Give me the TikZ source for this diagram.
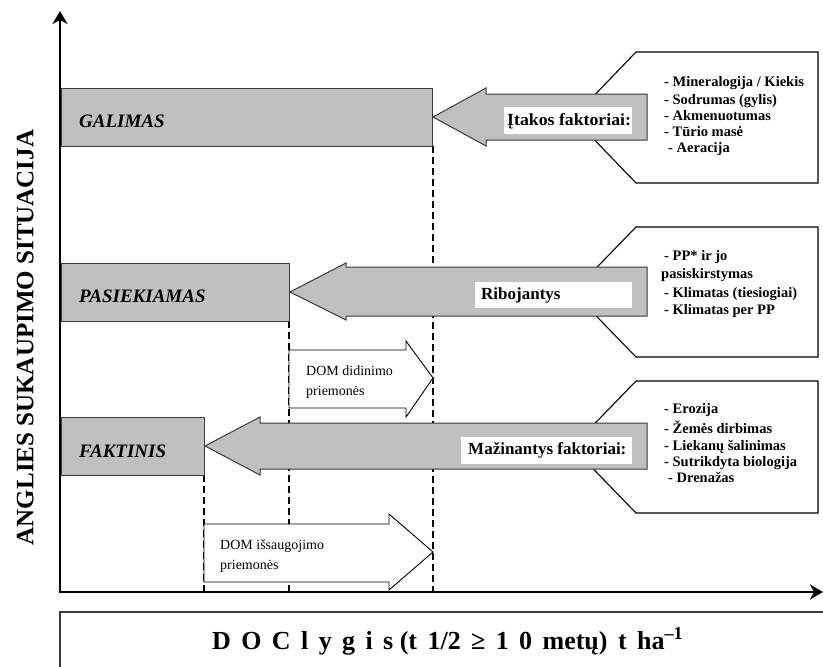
\documentclass[tikz,border=0pt]{standalone}
\usepackage{fontspec}
\setmainfont{Liberation Serif}
\usetikzlibrary{arrows.meta}
\definecolor{barfill}{HTML}{C0C0C0}
\definecolor{edge}{HTML}{3A3A3A}
\newcommand\pxf[1]{\fontsize{#1}{#1}\selectfont}
\newcommand\gp{\hspace{0.4em}}
\begin{document}
\begin{tikzpicture}[x=1pt,y=-1pt,
  bar/.style={draw=edge,fill=barfill,line width=1pt,inner sep=0pt,outer sep=0pt,anchor=north west},
  blockarrow/.style={draw=edge,fill=barfill,line width=1pt,line join=miter},
  callout/.style={draw=black,fill=white,line width=1.1pt,line join=miter},
  domarrow/.style={draw=black,fill=white,line width=0.9pt,line join=miter},
  guide/.style={line width=2pt,dash pattern=on 7pt off 4pt},
  axis/.style={line width=2.4pt,line join=miter},
  barlabel/.style={font=\pxf{19}\bfseries\itshape,anchor=base west,inner sep=0pt},
  labbox/.style={fill=white,inner sep=0pt,anchor=north west},
  arrlabel/.style={font=\pxf{17}\bfseries,anchor=base west,inner sep=0pt},
  listtext/.style={font=\pxf{14.5}\bfseries,anchor=base west,inner sep=0pt},
  domtext/.style={font=\pxf{14},anchor=base west,inner sep=0pt}
]
\useasboundingbox (0,0) rectangle (823,667);

% guide lines
\coordinate (g1t) at (433,146); \coordinate (g1b) at (433,592);
\coordinate (g2t) at (289,321); \coordinate (g2b) at (289,592);
\coordinate (g3t) at (204,475); \coordinate (g3b) at (204,592);
\draw[guide] (g1t) -- (g1b);
\draw[guide] (g2t) -- (g2b);
\draw[guide] (g3t) -- (g3b);

% callouts
\draw[callout] (636,52) -- (818,52) -- (818,183) -- (636,183) -- (573,117.5) -- cycle;
\draw[callout] (636,227) -- (818,227) -- (818,357) -- (636,357) -- (573,292) -- cycle;
\draw[callout] (636,381) -- (818,381) -- (818,513) -- (636,513) -- (572,447) -- cycle;

% bars
\node[bar,minimum width=371pt,minimum height=58pt] (galbar) at (61,88) {};
\node[bar,minimum width=228pt,minimum height=58pt] (pasbar) at (61,263) {};
\node[bar,minimum width=143pt,minimum height=58pt] (fakbar) at (61,417) {};

% block arrows
\draw[blockarrow] (433,117) -- (486,88) -- (486,94) -- (647,94) -- (647,140) -- (486,140) -- (486,146) -- cycle;
\draw[blockarrow] (290,292) -- (346,263) -- (346,267) -- (647,267) -- (647,316) -- (346,316) -- (346,320) -- cycle;
\draw[blockarrow] (205,446) -- (260,417) -- (260,423) -- (647,423) -- (647,469) -- (260,469) -- (260,475) -- cycle;

% white label boxes
\node[labbox,minimum width=128pt,minimum height=27pt] (lab1) at (504,107) {};
\node[labbox,minimum width=157pt,minimum height=26pt] (lab2) at (475,282) {};
\node[labbox,minimum width=171pt,minimum height=27pt] (lab3) at (461,437) {};
\node[arrlabel] (t1) at (507,125) {\scalebox{1.045}[1]{Įtakos faktoriai:}};
\node[arrlabel] (t2) at (481,299) {Ribojantys};
\node[arrlabel] (t3) at (468,454) {Mažinantys faktoriai:};

% bar labels
\node[barlabel] (galt) at (79,127) {GALIMAS};
\node[barlabel] (past) at (79,302) {PASIEKIAMAS};
\node[barlabel] (fakt) at (79,457) {FAKTINIS};

% DOM arrows
\draw[domarrow] (289,350) -- (406,350) -- (406,341) -- (433,378) -- (406,417) -- (406,408) -- (289,408) -- cycle;
\draw[domarrow] (204,524) -- (389,524) -- (389,514) -- (433,552) -- (389,590) -- (389,582) -- (204,582) -- cycle;
\node[domtext] (d1a) at (306,375) {DOM didinimo};
\node[domtext] (d1b) at (306,395) {priemonės};
\node[domtext] (d2a) at (220,549) {DOM išsaugojimo};
\node[domtext] (d2b) at (220,569) {priemonės};

% callout texts
\node[listtext] (c1a) at (664,86.5) {- Mineralogija / Kiekis};
\node[listtext] (c1b) at (664,104) {- Sodrumas (gylis)};
\node[listtext] (c1c) at (664,120) {- Akmenuotumas};
\node[listtext] (c1d) at (664,136) {- Tūrio masė};
\node[listtext] (c1e) at (668,152) {- Aeracija};

\node[listtext] (c2a) at (664,260) {- PP* ir jo};
\node[listtext] (c2b) at (661,278) {pasiskirstymas};
\node[listtext] (c2c) at (664,297) {- Klimatas (tiesiogiai)};
\node[listtext] (c2d) at (664,314) {- Klimatas per PP};

\node[listtext] (c3a) at (664,413) {- Erozija};
\node[listtext] (c3b) at (664,433) {- Žemės dirbimas};
\node[listtext] (c3c) at (664,450) {- Liekanų šalinimas};
\node[listtext] (c3d) at (664,466) {- Sutrikdyta biologija};
\node[listtext] (c3e) at (668,482) {- Drenažas};

% axes
\coordinate (ytop) at (60,11);
\coordinate (origin) at (60,592);
\coordinate (xend) at (823,592);
\draw[axis,{Stealth[length=13pt,width=15pt,inset=4pt]}-{Stealth[length=13pt,width=15pt,inset=4pt]}] (ytop) -- (origin) -- (xend);

% y label
\node[rotate=90,anchor=base,inner sep=0pt,font=\pxf{25}\bfseries] (ylab) at (33.5,337.5) {ANGLIES SUKAUPIMO SITUACIJA};

% bottom box
\coordinate (bbl) at (60,667); \coordinate (btl) at (60,612); \coordinate (btr) at (823,612);
\draw[draw=edge,line width=1.2pt] (bbl) -- (btl) -- (btr);
\node[anchor=base west,inner sep=0pt,font=\pxf{26}\bfseries] (doc) at (212,649) {D\gp O\gp C\gp l\gp y\gp g\gp i\gp s (t\gp 1/2\gp ≥\gp 1\gp 0\gp metų)\gp t\gp ha\textsuperscript{–1}};
\end{tikzpicture}
\end{document}
